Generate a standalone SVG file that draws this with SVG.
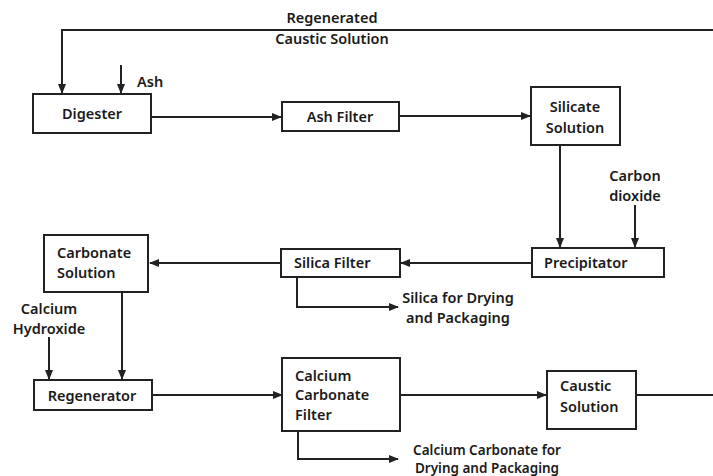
<svg xmlns="http://www.w3.org/2000/svg" width="713" height="476" viewBox="0 0 713 476">
<style>
.box{fill:#fff;stroke:#222;stroke-width:2}
.ln{fill:none;stroke:#222;stroke-width:2}
.t{font-family:"Noto Sans","DejaVu Sans",sans-serif;font-size:14.5px;font-weight:600;fill:#1a1a1a}
.s{font-size:13.5px}
.c{text-anchor:middle}
</style>
<defs>
<marker id="ah" markerWidth="10" markerHeight="8" refX="9" refY="4" orient="auto" markerUnits="userSpaceOnUse">
<path d="M0,0 L10,4 L0,8 Z" fill="#222"/>
</marker>
</defs>
<rect width="713" height="476" fill="#fff"/>
<g id="connectors">
<path class="ln" d="M713,30 L62,30 L62,93" marker-end="url(#ah)"/>
<path class="ln" d="M121,65 L121,93" marker-end="url(#ah)"/>
<path class="ln" d="M151,117 L281,117" marker-end="url(#ah)"/>
<path class="ln" d="M399,116 L530,116" marker-end="url(#ah)"/>
<path class="ln" d="M560,145 L560,247" marker-end="url(#ah)"/>
<path class="ln" d="M635,205 L635,247" marker-end="url(#ah)"/>
<path class="ln" d="M532,263 L401,263" marker-end="url(#ah)"/>
<path class="ln" d="M297,277 L297,307 L398,307" marker-end="url(#ah)"/>
<path class="ln" d="M281,263 L150,263" marker-end="url(#ah)"/>
<path class="ln" d="M122,292 L122,379" marker-end="url(#ah)"/>
<path class="ln" d="M49,337 L49,379" marker-end="url(#ah)"/>
<path class="ln" d="M152,395 L282,395" marker-end="url(#ah)"/>
<path class="ln" d="M400,395 L546,395" marker-end="url(#ah)"/>
<path class="ln" d="M636,395 L713,395"/>
<path class="ln" d="M298,431 L298,459 L398,459" marker-end="url(#ah)"/>
</g>
<g id="labels">
<text class="t c" x="332" y="23">Regenerated</text>
<text class="t c" x="332" y="44">Caustic Solution</text>
<text class="t" x="137" y="87">Ash</text>
<text class="t c" x="635" y="181">Carbon</text>
<text class="t c" x="635" y="201">dioxide</text>
<text class="t c" x="458" y="303">Silica for Drying</text>
<text class="t c" x="458" y="323">and Packaging</text>
<text class="t c" x="49" y="314">Calcium</text>
<text class="t c" x="49" y="334">Hydroxide</text>
<text class="t s c" x="487" y="455">Calcium Carbonate for</text>
<text class="t s c" x="487" y="473">Drying and Packaging</text>
</g>
<g id="digester"><rect class="box" x="33" y="94" width="118" height="39"/><text class="t c" x="92" y="119">Digester</text></g>
<g id="ash-filter"><rect class="box" x="282" y="102" width="117" height="29"/><text class="t c" x="340" y="122">Ash Filter</text></g>
<g id="silicate-solution"><rect class="box" x="531" y="87" width="89" height="58"/><text class="t c" x="575" y="112">Silicate</text><text class="t c" x="575" y="133">Solution</text></g>
<g id="precipitator"><rect class="box" x="532" y="248" width="132" height="29"/><text class="t" x="544" y="268">Precipitator</text></g>
<g id="silica-filter"><rect class="box" x="281" y="249" width="119" height="28"/><text class="t" x="294" y="268">Silica Filter</text></g>
<g id="carbonate-solution"><rect class="box" x="44" y="235" width="104" height="57"/><text class="t" x="57" y="258">Carbonate</text><text class="t" x="57" y="278">Solution</text></g>
<g id="regenerator"><rect class="box" x="34" y="380" width="118" height="30"/><text class="t c" x="92" y="401">Regenerator</text></g>
<g id="calcium-carbonate-filter"><rect class="box" x="282" y="358" width="118" height="73"/><text class="t" x="295" y="381">Calcium</text><text class="t" x="295" y="400">Carbonate</text><text class="t" x="295" y="420">Filter</text></g>
<g id="caustic-solution"><rect class="box" x="547" y="371" width="89" height="58"/><text class="t" x="560" y="391">Caustic</text><text class="t" x="560" y="412">Solution</text></g>
</svg>
